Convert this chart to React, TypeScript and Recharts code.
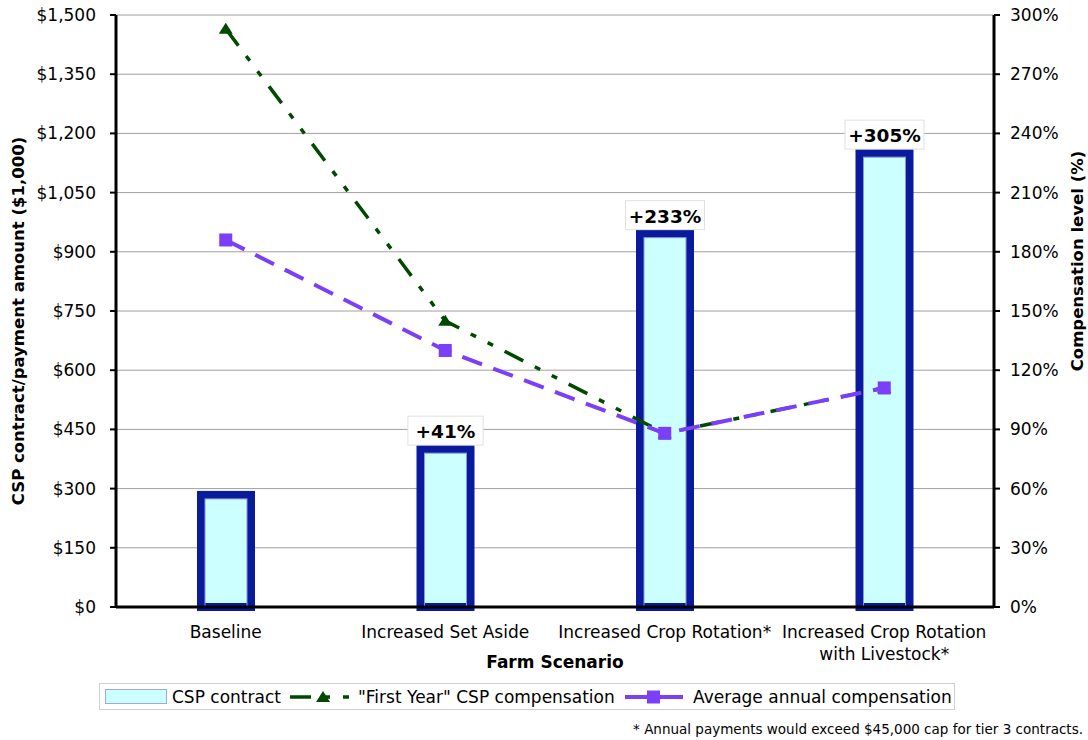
import React from 'react';
import {
  ComposedChart,
  Bar,
  Line,
  XAxis,
  YAxis,
  CartesianGrid,
  LabelList,
  Text,
} from 'recharts';

// Farm scenarios and their CSP values
const scenarios = [
  'Baseline',
  'Increased Set Aside',
  'Increased Crop Rotation*',
  'Increased Crop Rotation with Livestock*',
];
const cspContract = [284, 400, 946, 1150]; // $1,000
const firstYearCompensation = [293, 145, 88, 111]; // %
const averageAnnualCompensation = [186, 130, 88, 111]; // %
const increaseLabels = ['', '+41%', '+233%', '+305%'];

const dollarTicks = [0, 150, 300, 450, 600, 750, 900, 1050, 1200, 1350, 1500];
const percentTicks = [0, 30, 60, 90, 120, 150, 180, 210, 240, 270, 300];

const data = scenarios.map((scenario, i) => ({
  scenario,
  contract: cspContract[i],
  firstYear: firstYearCompensation[i],
  average: averageAnnualCompensation[i],
  label: increaseLabels[i],
}));

const FONT = '"DejaVu Sans", Verdana, sans-serif';
const BAR_FILL = '#CCFFFF';
const BAR_STROKE = '#0A1A9C';
const GREEN = '#004A00';
const PURPLE = '#7B3FF8';
const GREEN_DASH = '21 13 6 13 6 13';
const PURPLE_DASH = '21 12';

const fmtDollar = (v: number) => '$' + v.toLocaleString('en-US');
const fmtPercent = (v: number) => `${v}%`;

const ContractBar = (props: any) => {
  const { x, y, width, height } = props;
  if (height == null || height <= 0) return null;
  return (
    <g>
      <rect x={x} y={y} width={width} height={height} fill={BAR_FILL} stroke={BAR_STROKE} strokeWidth={8} />
      <rect x={x + 4} y={y + 4} width={width - 8} height={height - 4} fill="none" stroke="#8C96D8" strokeWidth={1} />
    </g>
  );
};

const IncreaseLabel = (props: any) => {
  const { x, y, width, value } = props;
  if (!value) return null;
  const w = 60 + String(value).length * 3.8;
  const h = 29;
  const cx = x + width / 2;
  const bottom = y - 4;
  return (
    <g>
      <rect x={cx - w / 2} y={bottom - h} width={w} height={h} fill="#ffffff" stroke="#e0e0e0" strokeWidth={1} />
      <text
        x={cx}
        y={bottom - h / 2 + 1}
        textAnchor="middle"
        dominantBaseline="central"
        fontFamily={FONT}
        fontWeight="bold"
        fontSize={18.5}
        fill="#000"
      >
        {value}
      </text>
    </g>
  );
};

const TriangleDot = (props: any) => {
  const { cx, cy } = props;
  if (cx == null || cy == null) return null;
  return <polygon points={`${cx},${cy - 6} ${cx + 7},${cy + 5} ${cx - 7},${cy + 5}`} fill={GREEN} />;
};

const SquareDot = (props: any) => {
  const { cx, cy } = props;
  if (cx == null || cy == null) return null;
  return <rect x={cx - 6.5} y={cy - 6.5} width={13} height={13} fill={PURPLE} />;
};

const CategoryTick = (props: any) => {
  const { x, y, payload } = props;
  return (
    <Text
      x={x}
      y={y + 13}
      width={224}
      textAnchor="middle"
      verticalAnchor="start"
      lineHeight={22}
      style={{ fontSize: 17, fontFamily: FONT }}
      fontSize={17}
      fontFamily={FONT}
      fill="#000"
    >
      {payload.value}
    </Text>
  );
};

const LeftTitle = (props: any) => {
  const { viewBox } = props;
  const cy = viewBox.y + viewBox.height / 2 + 10;
  return (
    <text
      x={18}
      y={cy}
      transform={`rotate(-90 18 ${cy})`}
      textAnchor="middle"
      dominantBaseline="central"
      fontFamily={FONT}
      fontWeight="bold"
      fontSize={16.5}
      fill="#000"
    >
      CSP contract/payment amount ($1,000)
    </text>
  );
};

const RightTitle = (props: any) => {
  const { viewBox } = props;
  const cx = viewBox.x + 83;
  const cy = viewBox.y + viewBox.height / 2 - 50;
  return (
    <text
      x={cx}
      y={cy}
      transform={`rotate(-90 ${cx} ${cy})`}
      textAnchor="middle"
      dominantBaseline="central"
      fontFamily={FONT}
      fontWeight="bold"
      fontSize={16.5}
      fill="#000"
    >
      Compensation level (%)
    </text>
  );
};

const BottomTitle = (props: any) => {
  const { viewBox } = props;
  const cx = viewBox.x + viewBox.width / 2;
  return (
    <text
      x={cx}
      y={668}
      textAnchor="middle"
      fontFamily={FONT}
      fontWeight="bold"
      fontSize={17}
      fill="#000"
    >
      Farm Scenario
    </text>
  );
};

const legendText: React.CSSProperties = {
  position: 'absolute',
  top: 686,
  fontSize: 17,
  fontFamily: FONT,
  lineHeight: '22px',
  color: '#000',
  whiteSpace: 'nowrap',
};

export default function App() {
  return (
    <div
      style={{
        position: 'absolute',
        left: 0,
        top: 0,
        width: 1088,
        height: 740,
        background: '#fff',
        fontFamily: FONT,
      }}
    >
      <ComposedChart
        width={1088}
        height={740}
        data={data}
        margin={{ top: 15, right: 0, left: 0, bottom: 83 }}
        barCategoryGap="0%"
      >
        <CartesianGrid vertical={false} stroke="#A0A0A0" strokeWidth={1} yAxisId="left" />
        <XAxis
          dataKey="scenario"
          height={50}
          axisLine={{ stroke: '#000', strokeWidth: 3 }}
          tickLine={false}
          tick={<CategoryTick />}
          tickMargin={0}
          interval={0}
          label={<BottomTitle />}
        />
        <YAxis
          yAxisId="left"
          orientation="left"
          width={116}
          domain={[0, 1500]}
          ticks={dollarTicks}
          tickFormatter={fmtDollar}
          axisLine={{ stroke: '#000', strokeWidth: 3 }}
          tickLine={{ stroke: '#000', strokeWidth: 2 }}
          tickSize={6}
          tickMargin={14}
          tick={{ fill: '#000', fontSize: 17, fontFamily: FONT }}
          interval={0}
          label={<LeftTitle />}
        />
        <YAxis
          yAxisId="right"
          orientation="right"
          width={94}
          domain={[0, 300]}
          ticks={percentTicks}
          tickFormatter={fmtPercent}
          axisLine={{ stroke: '#000', strokeWidth: 3 }}
          tickLine={{ stroke: '#000', strokeWidth: 2 }}
          tickSize={6}
          tickMargin={10}
          tick={{ fill: '#000', fontSize: 17, fontFamily: FONT }}
          interval={0}
          label={<RightTitle />}
        />
        <Bar
          yAxisId="left"
          dataKey="contract"
          barSize={50}
          shape={<ContractBar />}
          isAnimationActive={false}
        >
          <LabelList dataKey="label" content={<IncreaseLabel />} />
        </Bar>
        <Line
          yAxisId="right"
          type="linear"
          dataKey="firstYear"
          stroke={GREEN}
          strokeWidth={3.5}
          strokeDasharray={GREEN_DASH}
          dot={<TriangleDot />}
          activeDot={false}
          isAnimationActive={false}
        />
        <Line
          yAxisId="right"
          type="linear"
          dataKey="average"
          stroke={PURPLE}
          strokeWidth={4}
          strokeDasharray={PURPLE_DASH}
          dot={<SquareDot />}
          activeDot={false}
          isAnimationActive={false}
        />
      </ComposedChart>

      {/* Legend */}
      <div
        style={{
          position: 'absolute',
          left: 99,
          top: 683,
          width: 856,
          height: 27,
          border: '1px solid #D0D0D0',
          boxSizing: 'border-box',
        }}
      />
      <div
        style={{
          position: 'absolute',
          left: 105,
          top: 689,
          width: 62,
          height: 15,
          background: BAR_FILL,
          border: '1px solid #A0A8E0',
          boxSizing: 'border-box',
        }}
      />
      <div style={{ ...legendText, left: 172 }}>CSP contract</div>
      <svg style={{ position: 'absolute', left: 290, top: 687 }} width={62} height={20}>
        <line x1={0} y1={10} x2={62} y2={10} stroke={GREEN} strokeWidth={3.5} strokeDasharray={GREEN_DASH} />
        <polygon points="33,4 40,15 26,15" fill={GREEN} />
      </svg>
      <div style={{ ...legendText, left: 358 }}>"First Year" CSP compensation</div>
      <svg style={{ position: 'absolute', left: 625, top: 687 }} width={58} height={20}>
        <line x1={0} y1={10} x2={58} y2={10} stroke={PURPLE} strokeWidth={4} />
        <rect x={22} y={3.5} width={13} height={13} fill={PURPLE} />
      </svg>
      <div style={{ ...legendText, left: 693 }}>Average annual compensation</div>

      {/* Footnote */}
      <div
        style={{
          position: 'absolute',
          right: 5,
          top: 721,
          fontSize: 13.5,
          fontFamily: FONT,
          color: '#000',
          whiteSpace: 'nowrap',
        }}
      >
        * Annual payments would exceed $45,000 cap for tier 3 contracts.
      </div>
    </div>
  );
}
